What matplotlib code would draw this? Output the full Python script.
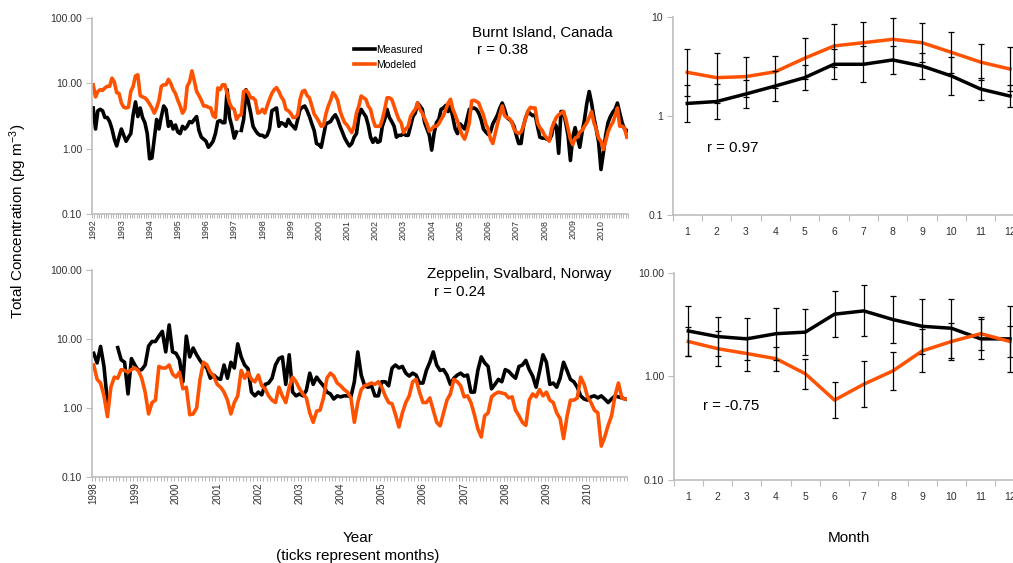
import numpy as np
import matplotlib
matplotlib.use("Agg")
import matplotlib.pyplot as plt
from matplotlib.ticker import NullLocator

plt.rcParams['font.family'] = ['Liberation Sans', 'DejaVu Sans']
plt.rcParams['mathtext.default'] = 'regular'

ORANGE = '#FF5200'
SPINE = '#BDBDBD'
TICKTXT = '#303030'
nan = np.nan

# Burnt Island, Canada - monthly values Jan 1992 .. Dec 2010 (pg m-3)
burnt_measured = [
    4.2, 2.0, 3.8, 4.0, 3.8, 3.0, 3.0, 2.6, 2.0, 1.4, 1.1, 1.5,      # 1992
    2.0, 1.6, 1.3, 1.5, 1.7, 3.3, 5.2, 3.1, 4.2, 3.0, 2.5, 1.7,      # 1993
    0.70, 0.72, 1.4, 2.8, 2.0, 3.1, 4.5, 4.0, 2.2, 2.6, 2.0, 2.3,    # 1994
    1.8, 1.7, 2.2, 2.0, 2.2, 2.6, 2.5, 2.8, 3.1, 1.9, 1.5, 1.4,      # 1995
    1.3, 1.05, 1.15, 1.3, 1.7, 2.6, 2.7, 2.5, 2.5, 8.0, 3.0, 2.2,    # 1996
    1.45, 1.8, nan, 1.9, 2.8, 8.0, 5.2, 3.5, 2.2, 1.9, 1.7, 1.6,     # 1997
    1.6, 1.5, 1.6, 2.0, 3.8, 4.0, 4.2, 2.2, 2.5, 2.4, 2.2, 2.8,      # 1998
    2.4, 2.2, 2.0, 2.8, 4.0, 4.3, 4.5, 3.8, 3.1, 2.4, 1.9, 1.2,      # 1999
    1.15, 1.05, 1.6, 2.4, 2.5, 2.6, 3.0, 3.3, 2.8, 2.2, 1.8, 1.45,   # 2000
    1.25, 1.1, 1.2, 1.5, 1.7, 3.1, 4.0, 3.5, 3.1, 2.3, 1.5, 1.25,    # 2001
    1.45, 1.25, 1.3, 2.2, 2.8, 4.0, 3.0, 2.6, 2.2, 1.5, 1.6, 1.6,    # 2002
    1.7, 1.6, 1.6, 2.2, 3.1, 3.5, 5.0, 4.5, 4.0, 2.5, 2.0, 1.6,      # 2003
    0.95, 1.7, 2.5, 2.8, 4.0, 4.2, 4.6, 3.7, 4.5, 3.0, 2.0, 1.7,     # 2004
    2.4, 2.2, 2.0, 2.8, 4.0, 4.1, 4.2, 4.0, 3.5, 2.8, 2.0, 1.8,      # 2005
    1.65, 1.8, 2.4, 2.8, 3.3, 4.2, 5.0, 4.0, 3.0, 2.8, 2.6, 2.2,     # 2006
    1.6, 1.2, 1.2, 2.2, 3.0, 3.7, 3.4, 3.2, 3.3, 2.2, 1.5, 1.45,     # 2007
    1.45, 1.4, 1.35, 1.6, 2.5, 2.2, 0.85, 3.7, 3.7, 2.5, 1.6, 0.66,  # 2008
    1.5, 2.1, 1.45, 1.05, 1.8, 2.8, 5.0, 7.5, 5.0, 3.0, 2.0, 1.25,   # 2009
    0.48, 0.85, 1.6, 2.5, 3.1, 3.6, 4.0, 5.0, 3.5, 2.5, 2.0, 1.9,    # 2010
]
burnt_modeled = [
    9.5, 6.2, 7.5, 8.0, 7.8, 8.5, 9.0, 9.0, 12.0, 10.5, 7.2, 7.0,    # 1992
    5.0, 4.3, 4.2, 4.3, 7.5, 9.0, 13.0, 13.5, 6.5, 6.2, 6.0, 5.5,    # 1993
    4.8, 4.2, 3.5, 4.2, 5.5, 9.0, 9.5, 9.5, 11.5, 10.0, 8.0, 7.0,    # 1994
    5.5, 4.5, 3.5, 4.0, 9.0, 10.5, 15.5, 11.0, 7.5, 6.5, 5.5, 4.5,   # 1995
    4.5, 4.3, 4.2, 3.2, 3.0, 8.5, 8.0, 9.5, 9.5, 7.0, 5.0, 4.2,      # 1996
    4.0, 2.8, 3.2, 3.3, 7.5, 7.8, 7.2, 6.0, 6.0, 5.5, 3.5, 3.6,      # 1997
    4.0, 3.5, 4.5, 5.7, 7.0, 8.0, 8.6, 7.5, 6.2, 5.5, 4.0, 3.8,      # 1998
    3.5, 3.0, 3.0, 3.3, 5.7, 7.5, 7.8, 6.5, 6.0, 4.5, 3.4, 3.0,      # 1999
    2.6, 2.2, 2.3, 3.4, 4.5, 5.5, 7.2, 6.5, 5.5, 3.8, 3.0, 2.5,      # 2000
    2.3, 2.0, 1.76, 2.2, 3.5, 4.5, 6.4, 6.0, 5.7, 4.5, 4.0, 2.8,     # 2001
    2.2, 2.2, 2.2, 2.8, 4.0, 6.0, 6.0, 5.7, 4.5, 3.5, 2.8, 2.5,      # 2002
    1.76, 2.0, 2.2, 3.1, 3.6, 4.0, 5.0, 4.0, 3.5, 2.9, 2.4, 1.85,    # 2003
    2.0, 2.2, 2.2, 2.4, 2.8, 3.2, 4.0, 5.0, 5.7, 4.0, 3.3, 2.6,      # 2004
    2.0, 1.6, 1.4, 1.8, 2.5, 5.4, 5.5, 5.3, 5.0, 4.0, 3.3, 2.4,      # 2005
    2.0, 1.4, 1.2, 1.7, 2.4, 3.3, 4.5, 3.2, 3.0, 2.9, 2.6, 2.0,      # 2006
    1.8, 1.7, 1.8, 2.2, 3.0, 3.8, 4.3, 4.2, 4.2, 2.5, 2.1, 1.9,      # 2007
    1.6, 1.45, 1.3, 2.0, 2.5, 3.0, 3.3, 3.5, 3.7, 2.9, 2.0, 1.4,     # 2008
    1.15, 1.45, 1.5, 1.8, 1.9, 2.2, 2.5, 3.0, 3.7, 2.5, 2.0, 1.45,   # 2009
    1.3, 0.97, 1.3, 1.8, 2.2, 2.5, 3.2, 4.2, 2.2, 2.2, 2.1, 1.5,     # 2010
]
burnt_years = list(range(1992, 2011))

# Zeppelin, Svalbard, Norway - monthly values Jan 1998 .. Dec 2010
zeppelin_measured = [
    6.2, 4.5, 7.8, 4.0, 1.2, nan, nan, 7.5, 5.0, 4.6, 1.6, 5.2,      # 1998
    4.2, 3.5, 3.6, 4.2, 7.9, 9.2, 9.2, 11.0, 12.9, 6.5, 16.0, 6.5,   # 1999
    6.2, 5.0, 2.4, 11.0, 5.5, 7.4, 5.9, 4.9, 4.2, 3.8, 2.7, 3.0,     # 2000
    2.7, 2.6, 4.2, 2.7, 4.6, 3.8, 8.5, 5.5, 4.2, 3.7, 1.7, 1.5,      # 2001
    1.7, 1.55, 2.2, 2.3, 2.7, 4.2, 5.2, 5.5, 2.2, 5.9, 1.7, 1.5,     # 2002
    1.6, 1.5, 1.8, 3.2, 2.2, 2.8, 2.4, 2.1, 1.7, 1.6, 1.35, 1.5,     # 2003
    1.45, 1.5, 1.5, 1.45, 2.4, 6.5, 3.0, 2.1, 2.0, 2.1, 1.5, 1.5,    # 2004
    2.4, 2.4, 2.1, 3.8, 4.2, 3.8, 4.0, 3.2, 2.9, 3.2, 3.0, 2.3,      # 2005
    2.3, 3.5, 4.6, 6.5, 4.2, 3.5, 3.6, 3.0, 2.2, 2.7, 3.0, 3.2,      # 2006
    2.9, 3.0, 1.7, 1.7, 3.5, 5.5, 4.5, 4.0, 1.9, 2.2, 2.6, 2.4,      # 2007
    3.6, 3.4, 3.0, 2.7, 4.0, 4.2, 4.9, 3.6, 2.9, 2.0, 3.4, 5.9,      # 2008
    4.6, 2.2, 2.3, 2.0, 2.7, 4.6, 3.5, 2.6, 2.4, 2.0, 1.5, 1.35,     # 2009
    1.3, 1.45, 1.5, 1.4, 1.5, 1.35, 1.2, 1.35, 1.5, 1.45, 1.4, 1.35, # 2010
]
zeppelin_modeled = [
    4.2, 2.6, 2.3, 1.5, 0.75, 2.0, 2.8, 2.7, 3.6, 3.5, 3.3, 3.6,     # 1998
    3.8, 3.5, 2.7, 1.7, 0.82, 1.2, 1.3, 4.0, 3.8, 3.8, 4.2, 3.1,     # 1999
    2.8, 3.3, 1.9, 2.0, 0.8, 0.82, 1.0, 2.6, 4.6, 4.2, 3.3, 2.9,     # 2000
    2.2, 2.0, 1.7, 1.3, 0.82, 1.2, 1.5, 3.5, 2.7, 3.3, 2.6, 2.4,     # 2001
    3.0, 2.1, 1.9, 1.5, 1.3, 1.2, 2.0, 1.5, 1.2, 2.0, 2.8, 2.4,      # 2002
    1.9, 1.6, 1.4, 0.85, 0.62, 0.9, 0.93, 1.4, 2.7, 3.2, 2.9, 2.3,   # 2003
    2.1, 1.85, 1.7, 1.4, 0.62, 1.2, 1.85, 2.1, 2.2, 2.3, 2.2, 2.4,   # 2004
    2.0, 1.5, 1.2, 1.15, 0.8, 0.53, 0.85, 1.2, 1.5, 2.4, 2.6, 1.7,   # 2005
    1.2, 1.2, 1.4, 0.93, 0.62, 0.55, 0.85, 1.3, 1.6, 2.6, 2.4, 2.1,  # 2006
    1.45, 1.5, 1.2, 0.8, 0.5, 0.38, 0.77, 0.85, 1.45, 1.6, 1.7, 1.65,  # 2007
    1.6, 1.4, 1.45, 0.93, 0.77, 0.62, 0.56, 1.3, 1.6, 1.45, 1.85, 1.5, # 2008
    1.7, 1.3, 1.2, 0.85, 0.7, 0.36, 0.75, 1.3, 1.3, 1.4, 2.8, 2.2,   # 2009
    1.45, 1.2, 0.93, 0.85, 0.28, 0.38, 0.56, 0.77, 1.5, 2.3, 1.4, 1.35,  # 2010
]
zeppelin_years = list(range(1998, 2011))

# Monthly climatology (mean with geometric error factor)
months = list(range(1, 13))
burnt_clim_meas = [1.34, 1.40, 1.67, 2.01, 2.44, 3.33, 3.33, 3.68, 3.20, 2.54, 1.87, 1.59]
burnt_clim_meas_err = [1.55, 1.51, 1.38, 1.42, 1.33, 1.42, 1.52, 1.38, 1.36, 1.56, 1.29, 1.30]
burnt_clim_mod = [2.76, 2.44, 2.50, 2.80, 3.83, 5.10, 5.50, 5.95, 5.50, 4.40, 3.50, 2.98]
burnt_clim_mod_err = [1.72, 1.79, 1.59, 1.45, 1.61, 1.65, 1.63, 1.63, 1.57, 1.61, 1.53, 1.66]

zep_clim_meas = [2.74, 2.42, 2.30, 2.58, 2.67, 3.98, 4.28, 3.53, 3.04, 2.91, 2.30, 2.30]
zep_clim_meas_err = [1.75, 1.55, 1.59, 1.78, 1.66, 1.66, 1.76, 1.67, 1.83, 1.92, 1.57, 2.07]
zep_clim_mod = [2.17, 1.85, 1.66, 1.48, 1.06, 0.59, 0.84, 1.13, 1.76, 2.17, 2.58, 2.17]
zep_clim_mod_err = [1.38, 1.47, 1.46, 1.31, 1.40, 1.48, 1.67, 1.52, 1.61, 1.50, 1.45, 1.40]

W, H = 1013, 563
fig = plt.figure(figsize=(W / 100, H / 100), dpi=100)


def px_rect(left, top, right, bottom):
    return [left / W, 1 - bottom / H, (right - left) / W, (bottom - top) / H]


def style_axes(ax):
    for side in ('top', 'right'):
        ax.spines[side].set_visible(False)
    for side in ('left', 'bottom'):
        ax.spines[side].set_color(SPINE)
        ax.spines[side].set_linewidth(1.2)
    ax.set_yscale('log')
    ax.yaxis.set_minor_locator(NullLocator())
    ax.tick_params(axis='y', which='major', length=4, width=0.8, color=SPINE,
                   labelsize=7.5, labelcolor=TICKTXT, pad=3)


def series_axes(rect, meas, model, years, year_fs):
    ax = fig.add_axes(rect)
    n = len(meas)
    x = np.arange(n)
    ax.plot(x, meas, color='black', lw=2.6, solid_joinstyle='round', label='Measured')
    ax.plot(x, model, color=ORANGE, lw=2.6, solid_joinstyle='round', label='Modeled')
    style_axes(ax)
    ax.set_ylim(0.1, 100)
    ax.set_yticks([0.1, 1, 10, 100])
    ax.set_yticklabels(['0.10', '1.00', '10.00', '100.00'])
    ax.set_xlim(-0.5, n - 0.5)
    ax.set_xticks(np.arange(0, n, 12))
    ax.set_xticklabels([str(y) for y in years], rotation=90, fontsize=year_fs,
                       color=TICKTXT)
    ax.set_xticks(np.arange(-0.5, n, 1), minor=True)
    ax.tick_params(axis='x', which='major', length=0, pad=4)
    ax.tick_params(axis='x', which='minor', length=3, width=0.6, color='#A8A8A8')
    return ax


def month_axes(rect, meas, meas_f, model, model_f, ticks, labels):
    ax = fig.add_axes(rect)
    x = np.array(months)
    meas = np.array(meas)
    model = np.array(model)
    mf = np.array(meas_f)
    of = np.array(model_f)
    ax.plot(x, meas, color='black', lw=2.5)
    ax.plot(x, model, color=ORANGE, lw=2.5)
    ax.errorbar(x, meas, yerr=[meas - meas / mf, meas * mf - meas], fmt='none',
                ecolor='black', elinewidth=0.9, capsize=2.5, capthick=0.9, zorder=4)
    ax.errorbar(x, model, yerr=[model - model / of, model * of - model], fmt='none',
                ecolor='black', elinewidth=0.9, capsize=2.5, capthick=0.9, zorder=4)
    style_axes(ax)
    ax.set_ylim(0.1, 10)
    ax.set_yticks(ticks)
    ax.set_yticklabels(labels)
    ax.set_xlim(0.5, 12.5)
    ax.set_xticks(x)
    ax.set_xticklabels([str(m) for m in months], fontsize=7.5, color=TICKTXT)
    ax.set_xticks(np.arange(0.5, 13, 1), minor=True)
    ax.tick_params(axis='x', which='major', length=0, pad=9)
    ax.tick_params(axis='x', which='minor', length=4, width=0.8, color=SPINE)
    return ax


ax1 = series_axes(px_rect(92, 18, 628, 214), burnt_measured, burnt_modeled,
                  burnt_years, 6.4)
ax2 = series_axes(px_rect(92, 270, 627, 477), zeppelin_measured, zeppelin_modeled,
                  zeppelin_years, 7)
ax3 = month_axes(px_rect(672.6, 17, 1024.7, 215), burnt_clim_meas, burnt_clim_meas_err,
                 burnt_clim_mod, burnt_clim_mod_err, [0.1, 1, 10], ['0.1', '1', '10'])
ax4 = month_axes(px_rect(673.7, 272.7, 1024.6, 480), zep_clim_meas, zep_clim_meas_err,
                 zep_clim_mod, zep_clim_mod_err, [0.1, 1, 10], ['0.10', '1.00', '10.00'])

ax1.legend(loc='upper left', bbox_to_anchor=(354 / W, 1 - 45 / H),
           bbox_transform=fig.transFigure, frameon=False, fontsize=7.5,
           handlelength=2.0, handletextpad=0.1, borderpad=0, borderaxespad=0,
           labelspacing=0.45)


def ftext(x, y, s, size=10.8, **kw):
    fig.text(x / W, 1 - y / H, s, fontsize=size, va='center', **kw)


ftext(472, 33, 'Burnt Island, Canada')
ftext(477, 50, 'r = 0.38')
ftext(427, 274, 'Zeppelin, Svalbard, Norway')
ftext(434, 292, 'r = 0.24')
ftext(707, 148, 'r = 0.97')
ftext(703, 406, 'r = -0.75')
ftext(18, 221, 'Total Concentration (pg m$^{-3}$)', size=11, rotation=90, ha='center')
ftext(358, 538, 'Year', size=11, ha='center')
ftext(358, 556, '(ticks represent months)', size=11, ha='center')
ftext(849, 538, 'Month', size=11, ha='center')

fig.savefig('out.png', dpi=100)
